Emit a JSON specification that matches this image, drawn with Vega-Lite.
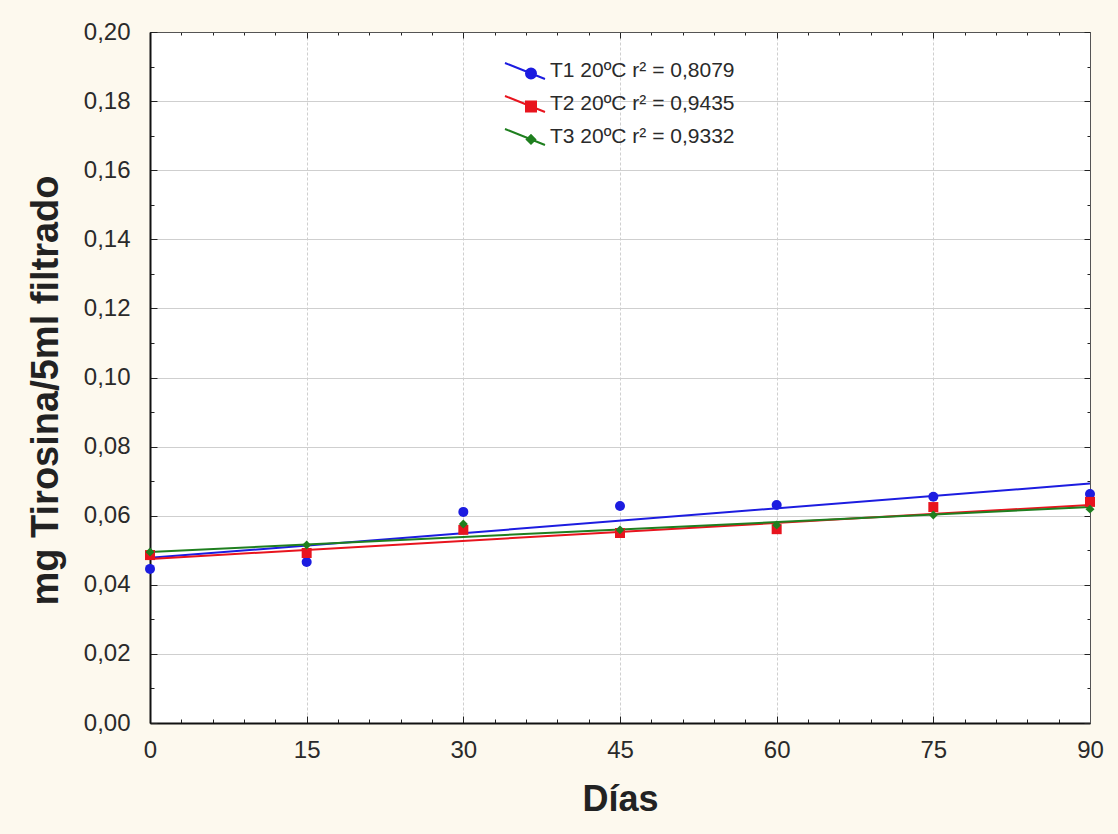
{
  "$schema": "https://vega.github.io/schema/vega-lite/v6.json",
  "width": 940,
  "height": 691,
  "autosize": {"type": "none"},
  "padding": {"left": 150, "top": 32, "right": 28, "bottom": 111},
  "background": "#fdf9ee",
  "config": {
    "font": "Liberation Sans",
    "view": {"fill": "white", "stroke": "#555555", "strokeWidth": 1},
    "axis": {
      "labelFont": "Liberation Sans",
      "labelFontSize": 24,
      "labelColor": "#2a2a2a",
      "titleFont": "Liberation Sans",
      "titleFontWeight": "bold",
      "titleColor": "#222222",
      "gridColor": "#cfcfcf",
      "gridWidth": 1,
      "tickColor": "#222222",
      "domainColor": "#111111",
      "domainWidth": 2
    }
  },
  "datasets": {
    "puntos": [
      {"serie": "T1", "dia": 0, "valor": 0.0446},
      {"serie": "T1", "dia": 15, "valor": 0.0466},
      {"serie": "T1", "dia": 30, "valor": 0.0611},
      {"serie": "T1", "dia": 45, "valor": 0.0628},
      {"serie": "T1", "dia": 60, "valor": 0.0631},
      {"serie": "T1", "dia": 75, "valor": 0.0655},
      {"serie": "T1", "dia": 90, "valor": 0.0663},
      {"serie": "T2", "dia": 0, "valor": 0.0486},
      {"serie": "T2", "dia": 15, "valor": 0.0492},
      {"serie": "T2", "dia": 30, "valor": 0.0559},
      {"serie": "T2", "dia": 45, "valor": 0.0550},
      {"serie": "T2", "dia": 60, "valor": 0.0561},
      {"serie": "T2", "dia": 75, "valor": 0.0625},
      {"serie": "T2", "dia": 90, "valor": 0.0640},
      {"serie": "T3", "dia": 0, "valor": 0.0495},
      {"serie": "T3", "dia": 15, "valor": 0.0515},
      {"serie": "T3", "dia": 30, "valor": 0.0576},
      {"serie": "T3", "dia": 45, "valor": 0.0559},
      {"serie": "T3", "dia": 60, "valor": 0.0573},
      {"serie": "T3", "dia": 75, "valor": 0.0602},
      {"serie": "T3", "dia": 90, "valor": 0.0619}
    ],
    "ajuste": [
      {"serie": "T1", "dia": 0, "valor": 0.0478},
      {"serie": "T1", "dia": 90, "valor": 0.0693},
      {"serie": "T2", "dia": 0, "valor": 0.0475},
      {"serie": "T2", "dia": 90, "valor": 0.0631},
      {"serie": "T3", "dia": 0, "valor": 0.0495},
      {"serie": "T3", "dia": 90, "valor": 0.0625}
    ]
  },
  "layer": [
    {
      "data": {"name": "ajuste"},
      "mark": {"type": "line", "strokeWidth": 2},
      "encoding": {
        "x": {
          "field": "dia",
          "type": "quantitative",
          "scale": {"domain": [0, 90], "nice": false, "zero": false},
          "axis": {
            "orient": "bottom",
            "title": "Días",
            "titleFontSize": 36,
            "titlePadding": 20,
            "values": [0, 3, 6, 9, 12, 15, 18, 21, 24, 27, 30, 33, 36, 39, 42, 45, 48, 51, 54, 57, 60, 63, 66, 69, 72, 75, 78, 81, 84, 87, 90],
            "labelExpr": "datum.value % 15 === 0 ? datum.label : ''",
            "labelPadding": 22,
            "labelFlush": false,
            "tickSize": {"condition": {"test": "datum.value % 15 === 0", "value": -7}, "value": -4},
            "gridOpacity": {"condition": {"test": "datum.value % 15 === 0", "value": 1}, "value": 0},
            "gridDash": [3, 2]
          }
        },
        "y": {
          "field": "valor",
          "type": "quantitative",
          "scale": {"domain": [0, 0.2], "nice": false},
          "axis": {
            "orient": "left",
            "title": "mg Tirosina/5ml filtrado",
            "titleFontSize": 38,
            "titlePadding": 18,
            "titleY": 358,
            "values": [0, 0.01, 0.02, 0.03, 0.04, 0.05, 0.06, 0.07, 0.08, 0.09, 0.1, 0.11, 0.12, 0.13, 0.14, 0.15, 0.16, 0.17, 0.18, 0.19, 0.2],
            "labelExpr": "round(datum.value * 100) % 2 === 0 ? replace(format(datum.value, '.2f'), '.', ',') : ''",
            "labelPadding": 27,
            "tickSize": {"condition": {"test": "round(datum.value * 100) % 2 === 0", "value": -7}, "value": -4},
            "gridOpacity": {"condition": {"test": "round(datum.value * 100) % 2 === 0", "value": 1}, "value": 0}
          }
        },
        "color": {
          "field": "serie",
          "type": "nominal",
          "scale": {"domain": ["T1", "T2", "T3"], "range": ["#1c1ce0", "#e8141e", "#1f7f1f"]},
          "legend": {
            "orient": "none",
            "legendX": 364,
            "legendY": 28,
            "title": null,
            "padding": 0,
            "symbolSize": 400,
            "labelFont": "Liberation Sans",
            "labelFontSize": 21,
            "labelColor": "#2a2a2a",
            "labelLimit": 0,
            "labelOffset": 14,
            "rowPadding": 9,
            "labelExpr": "datum.value + ' 20ºC r² = ' + (datum.value === 'T1' ? '0,8079' : datum.value === 'T2' ? '0,9435' : '0,9332')",
            "encode": {
              "symbols": {
                "update": {
                  "shape": {"signal": "datum.value === 'T1' ? 'M-2,-0.8L2,0.8M1.1,0.24A0.5,0.5 0 1,0 0.1,0.24A0.5,0.5 0 1,0 1.1,0.24Z' : datum.value === 'T2' ? 'M-2,-0.8L2,0.8M0.1,-0.26L1.1,-0.26L1.1,0.74L0.1,0.74Z' : 'M-2,-0.8L2,0.8M0.6,-0.18L1.02,0.24L0.6,0.66L0.18,0.24Z'"},
                  "fill": {"signal": "scale('color', datum.value)"},
                  "stroke": {"signal": "scale('color', datum.value)"},
                  "strokeWidth": {"value": 2},
                  "opacity": {"value": 1},
                  "fillOpacity": {"value": 1}
                }
              }
            }
          }
        }
      }
    },
    {
      "data": {"name": "puntos"},
      "transform": [{"filter": "datum.serie === 'T1'"}],
      "mark": {"type": "point", "shape": "circle", "filled": true, "opacity": 1, "size": 100},
      "encoding": {
        "x": {
          "field": "dia",
          "type": "quantitative",
          "axis": {
            "orient": "top",
            "title": null,
            "labels": false,
            "grid": false,
            "domainColor": "#555555",
            "domainWidth": 1,
            "values": [0, 3, 6, 9, 12, 15, 18, 21, 24, 27, 30, 33, 36, 39, 42, 45, 48, 51, 54, 57, 60, 63, 66, 69, 72, 75, 78, 81, 84, 87, 90],
            "tickSize": {"condition": {"test": "datum.value % 15 === 0", "value": -6}, "value": -3}
          }
        },
        "y": {
          "field": "valor",
          "type": "quantitative",
          "axis": {
            "orient": "right",
            "title": null,
            "labels": false,
            "grid": false,
            "domainColor": "#555555",
            "domainWidth": 1,
            "values": [0, 0.01, 0.02, 0.03, 0.04, 0.05, 0.06, 0.07, 0.08, 0.09, 0.1, 0.11, 0.12, 0.13, 0.14, 0.15, 0.16, 0.17, 0.18, 0.19, 0.2],
            "tickSize": {"condition": {"test": "round(datum.value * 100) % 2 === 0", "value": -6}, "value": -3}
          }
        },
        "color": {"field": "serie", "type": "nominal"}
      }
    },
    {
      "data": {"name": "puntos"},
      "transform": [{"filter": "datum.serie === 'T2'"}],
      "mark": {"type": "point", "shape": "square", "filled": true, "opacity": 1, "size": 100},
      "encoding": {
        "x": {"field": "dia", "type": "quantitative", "axis": null},
        "y": {"field": "valor", "type": "quantitative", "axis": null},
        "color": {"field": "serie", "type": "nominal"}
      }
    },
    {
      "data": {"name": "puntos"},
      "transform": [{"filter": "datum.serie === 'T3'"}],
      "mark": {"type": "point", "shape": "diamond", "filled": true, "opacity": 1, "size": 80},
      "encoding": {
        "x": {"field": "dia", "type": "quantitative", "axis": null},
        "y": {"field": "valor", "type": "quantitative", "axis": null},
        "color": {"field": "serie", "type": "nominal"}
      }
    }
  ],
  "resolve": {"axis": {"x": "independent", "y": "independent"}}
}
